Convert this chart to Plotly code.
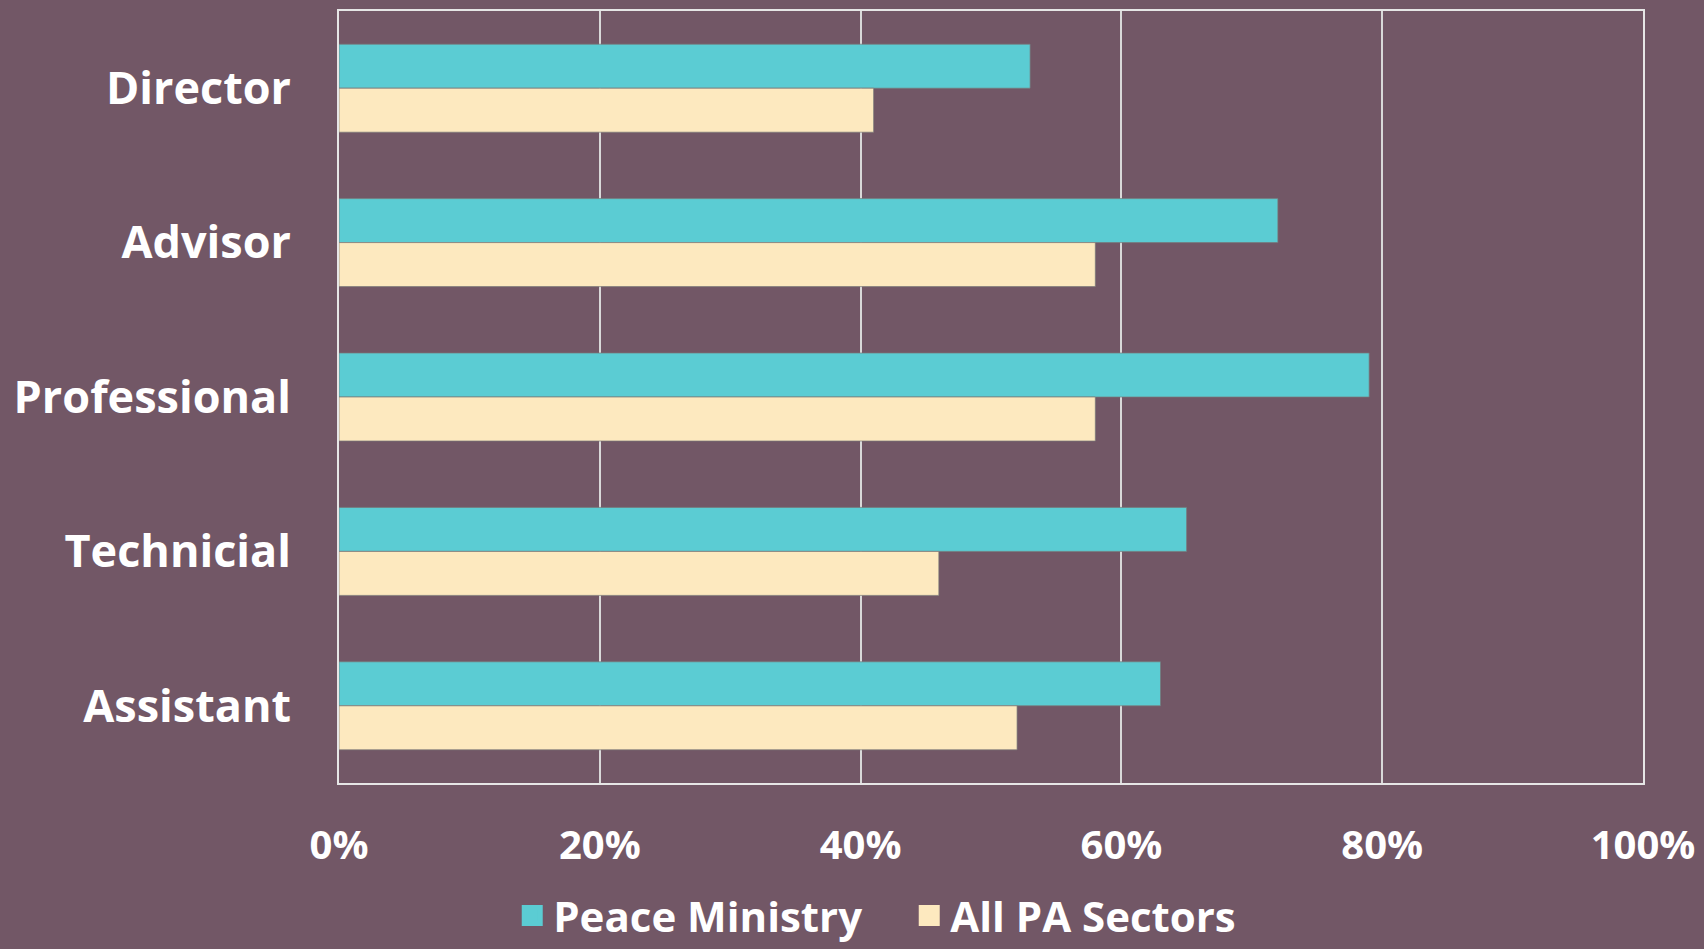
import plotly.graph_objects as go

categories = ["Director", "Advisor", "Professional", "Technicial", "Assistant"]
peace_ministry = [0.53, 0.72, 0.79, 0.65, 0.63]
all_pa_sectors = [0.41, 0.58, 0.58, 0.46, 0.52]
x_ticks = [0, 0.2, 0.4, 0.6, 0.8, 1.0]
x_tick_labels = ["0%", "20%", "40%", "60%", "80%", "100%"]

BG = "#725766"
TEAL = "#5BCCD3"
CREAM = "#FDE9BF"
FONT = "Open Sans"

fig = go.Figure()
fig.add_trace(go.Bar(
    y=categories, x=peace_ministry, orientation="h", name="Peace Ministry",
    marker=dict(color=TEAL, line=dict(color="rgba(120,120,120,0.7)", width=1)),
    showlegend=False,
))
fig.add_trace(go.Bar(
    y=categories, x=all_pa_sectors, orientation="h", name="All PA Sectors",
    marker=dict(color=CREAM, line=dict(color="rgba(120,120,120,0.7)", width=1)),
    showlegend=False,
))
# legend proxies (larger square swatches)
for nm, col in [("Peace Ministry", TEAL), ("All PA Sectors", CREAM)]:
    fig.add_trace(go.Scatter(
        x=[None], y=[None], mode="markers", name=nm,
        marker=dict(symbol="square", size=16, color=col, line=dict(color=col, width=6)),
    ))

fig.update_layout(
    width=1704, height=949,
    paper_bgcolor=BG, plot_bgcolor=BG,
    margin=dict(l=339, r=61, t=11, b=166, autoexpand=False),
    barmode="group", bargap=0.43, bargroupgap=0,
    font=dict(family=FONT, color="white"),
    legend=dict(
        orientation="h", xref="container", yref="container",
        x=0.533, xanchor="center", y=0.035, yanchor="middle",
        font=dict(size=42, family=FONT, color="white", weight=700),
        bgcolor="rgba(0,0,0,0)", itemwidth=32,
        entrywidth=350, entrywidthmode="pixels",
    ),
)
fig.update_xaxes(
    range=[0, 1], tickvals=x_ticks, ticktext=x_tick_labels,
    showgrid=True, gridcolor="#D9D9D9", gridwidth=1.5,
    showline=True, mirror=True, linecolor="#E6E6E6", linewidth=2,
    ticks="", ticklabelstandoff=26, zeroline=False,
    tickfont=dict(size=40, family=FONT, color="white", weight=700),
)
fig.update_yaxes(
    autorange="reversed", showgrid=False,
    showline=True, mirror=True, linecolor="#E6E6E6", linewidth=2,
    ticks="", ticklabelstandoff=37,
    tickfont=dict(size=45, family=FONT, color="white", weight=700),
)

fig.write_html(
    "out.html",
    config={"displayModeBar": False},
    post_script="document.body.style.margin='0';document.body.style.background='#725766';",
)
